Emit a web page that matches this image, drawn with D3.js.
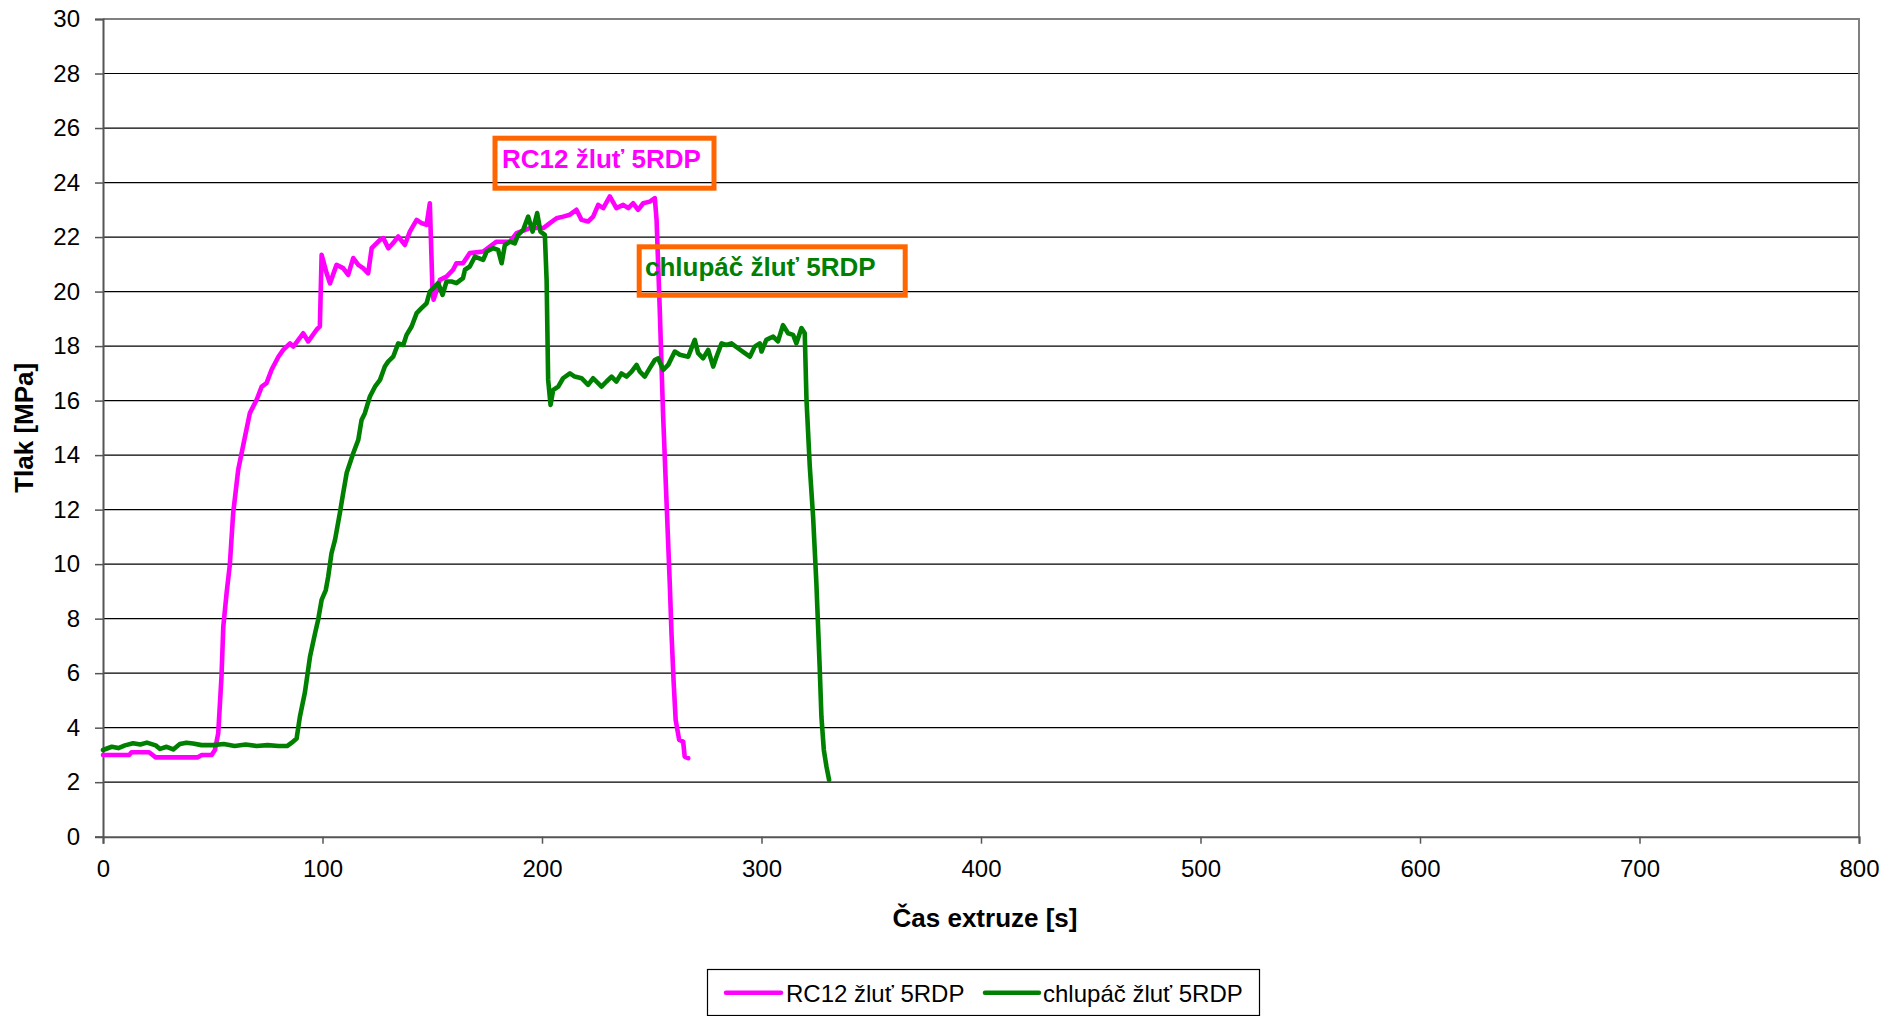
<!DOCTYPE html>
<html>
<head>
<meta charset="utf-8">
<script src="https://cdn.jsdelivr.net/npm/d3@7"></script>
<style>
  body { margin: 0; background: #fff; }
  svg { display: block; font-family: "Liberation Sans", Arial, sans-serif; }
</style>
</head>
<body>
<svg id="chart" width="1901" height="1016"></svg>
<script>
(function() {
'use strict';

// values: [time s, pressure MPa]
var rcSeries = [
    [0, 3.0], [5, 3.0], [12, 3.0], [13, 3.1], [21, 3.1], [24, 2.91], [43, 2.91], [45, 3.0],
    [49.5, 3.0], [51, 3.18], [52.5, 3.8], [54, 5.9], [54.8, 7.7], [56.3, 8.93], [57.8, 10.0],
    [59.3, 11.87], [61.6, 13.46], [64.7, 14.68], [66.9, 15.54], [70, 16.03], [72.3, 16.51],
    [74.5, 16.64], [76.8, 17.13], [79.9, 17.61], [82.1, 17.86], [85.2, 18.1], [86.7, 17.98],
    [91.2, 18.47], [93.5, 18.17], [97.3, 18.6], [98.8, 18.72], [99.6, 21.35], [101.9, 20.67],
    [103.4, 20.3], [106.4, 20.98], [109.4, 20.86], [111.7, 20.61], [114, 21.23], [116.3, 20.98],
    [118.5, 20.86], [120.8, 20.67], [122.4, 21.59], [126.2, 21.9], [127.7, 21.96], [130, 21.59],
    [132.2, 21.78], [134.5, 22.02], [137.5, 21.71], [139.8, 22.2], [142.9, 22.63], [145.1, 22.51],
    [147.4, 22.45], [148.9, 23.24], [150.1, 20.06], [150.6, 19.7], [153.5, 20.43], [156.5, 20.55],
    [159.5, 20.8], [161, 21.04], [164, 21.04], [167.1, 21.41], [173.2, 21.47], [179.3, 21.83],
    [185.4, 21.83], [188.4, 22.14], [194.5, 22.33], [200.6, 22.33], [203.6, 22.51], [206.6, 22.69],
    [209.6, 22.75], [212.7, 22.82], [215.7, 23.0], [218, 22.63], [221, 22.57], [223.3, 22.75],
    [225.6, 23.18], [227.9, 23.06], [230.9, 23.49], [233.9, 23.06], [237, 23.18], [239.3, 23.06],
    [241.5, 23.24], [243.8, 23.0], [246.1, 23.24], [249.1, 23.3], [251.4, 23.43], [252.2, 22.63],
    [252.9, 21.04], [253.7, 19.21], [254.4, 17.4], [255.2, 15.41], [256.7, 12.36], [258.2, 9.3],
    [259, 7.46], [260, 5.63], [260.9, 4.28], [262.5, 3.55], [264.3, 3.49], [265, 2.94], [266.6, 2.88]
];

var chSeries = [
    [0, 3.18], [4, 3.3], [7, 3.25], [10, 3.35], [13.7, 3.43], [17, 3.38], [20, 3.45], [24, 3.35],
    [26, 3.22], [29, 3.3], [32, 3.2], [35, 3.4], [38, 3.45], [41, 3.42], [44.9, 3.36], [50, 3.36],
    [55, 3.4], [60, 3.33], [65, 3.38], [70, 3.33], [75, 3.36], [80, 3.33], [84, 3.33], [86, 3.45],
    [88.2, 3.6], [89.7, 4.4], [92, 5.3], [94.3, 6.6], [96.6, 7.46], [98, 7.95], [99.6, 8.69],
    [101.5, 9.05], [102.6, 9.54], [104.1, 10.4], [105.7, 10.89], [107.9, 11.87], [109.4, 12.6],
    [111, 13.34], [114, 14.07], [116.3, 14.56], [117.8, 15.29], [119.3, 15.54], [121.6, 16.15],
    [123.9, 16.51], [126.2, 16.76], [128.4, 17.25], [129.9, 17.43], [132.2, 17.61], [134.5, 18.1],
    [136.8, 18.04], [138.3, 18.41], [140.6, 18.72], [142.9, 19.21], [145.1, 19.39], [147.4, 19.57],
    [148.9, 20.0], [151.2, 20.18], [152.7, 20.31], [154.7, 19.88], [156.5, 20.37], [158.8, 20.37],
    [161, 20.31], [164, 20.49], [164.9, 20.8], [167.1, 20.92], [169.4, 21.28], [173.2, 21.16],
    [174.8, 21.47], [177.8, 21.59], [180, 21.53], [181.6, 21.04], [183.1, 21.71], [185.4, 21.83],
    [187.6, 21.77], [189.1, 22.08], [191.4, 22.26], [193.7, 22.75], [195.7, 22.2], [197.8, 22.88],
    [199.3, 22.2], [201.3, 22.08], [202.1, 20.43], [202.8, 16.76], [203.9, 15.84], [205.1, 16.39],
    [207.4, 16.51], [209.6, 16.82], [212.7, 17.0], [214.9, 16.88], [218, 16.82], [221, 16.58],
    [223.3, 16.82], [227.1, 16.51], [229.4, 16.7], [231.7, 16.88], [233.9, 16.7], [236.2, 17.0],
    [238.5, 16.88], [240.8, 17.06], [243.1, 17.31], [244.6, 17.06], [246.8, 16.88], [249.1, 17.19],
    [251.4, 17.49], [252.9, 17.55], [255.2, 17.13], [257.5, 17.31], [260.5, 17.8], [262.8, 17.68],
    [266.6, 17.61], [269.6, 18.23], [271.1, 17.74], [273.4, 17.55], [275.7, 17.86], [278, 17.25],
    [279.5, 17.61], [281.8, 18.1], [284, 18.04], [286.3, 18.1], [289.3, 17.92], [292.4, 17.74],
    [294.7, 17.61], [296.9, 17.98], [299.2, 18.1], [300, 17.8], [302.2, 18.23], [305.3, 18.35],
    [307.5, 18.17], [309.8, 18.77], [312.1, 18.47], [314.4, 18.41], [315.9, 18.1], [318.2, 18.66],
    [319.7, 18.47], [320.5, 16.03], [322, 13.58], [323.5, 11.74], [325, 9.3], [326.5, 6.24],
    [327.3, 4.4], [328.4, 3.18], [329.6, 2.57], [330.8, 2.08]
];

var seriesNames = ['RC12 žluť 5RDP', 'chlupáč žluť 5RDP'];
var seriesColors = ['#ff00ff', '#008000'];
var xTicks = [0, 100, 200, 300, 400, 500, 600, 700, 800];
var yTicks = [0, 2, 4, 6, 8, 10, 12, 14, 16, 18, 20, 22, 24, 26, 28, 30];

var left = 103, right = 1859, top = 19, bottom = 836.7;

var svg = d3.select('#chart');

var x = d3.scaleLinear().domain([0, 800]).range([left, right]);
var y = d3.scaleLinear().domain([0, 30]).range([bottom, top]);

// grid
svg.append('g')
    .selectAll('line')
    .data(yTicks.filter(function(d) { return d > 0 && d < 30; }))
    .enter()
    .append('line')
    .attr('x1', left)
    .attr('x2', right)
    .attr('y1', function(d) { return y(d); })
    .attr('y2', function(d) { return y(d); })
    .attr('stroke', '#000')
    .attr('stroke-width', 1.2);

// plot frame top / right
svg.append('path')
    .attr('d', 'M' + left + ',' + y(30) + 'H' + right + 'V' + bottom)
    .attr('fill', 'none')
    .attr('stroke', '#808080')
    .attr('stroke-width', 2);

var yAxis = svg.append('g')
    .attr('transform', 'translate(' + left + ',0)')
    .call(d3.axisLeft(y).tickValues(yTicks).tickSize(8).tickPadding(15));

var xAxis = svg.append('g')
    .attr('transform', 'translate(0,' + bottom + ')')
    .call(d3.axisBottom(x).tickValues(xTicks).tickSize(7).tickPadding(16));

[yAxis, xAxis].forEach(function(ax) {
    ax.select('.domain').attr('stroke', '#555').attr('stroke-width', 2);
    ax.selectAll('.tick line').attr('stroke', '#555').attr('stroke-width', 1.5);
    ax.selectAll('.tick text')
        .attr('font-family', '"Liberation Sans", Arial, sans-serif')
        .attr('font-size', 24)
        .attr('fill', '#000');
});

// series
var line = d3.line()
    .x(function(d) { return x(d[0]); })
    .y(function(d) { return y(d[1]); });

[rcSeries, chSeries].forEach(function(s, i) {
    svg.append('path')
        .datum(s)
        .attr('d', line)
        .attr('fill', 'none')
        .attr('stroke', seriesColors[i])
        .attr('stroke-width', 4.6)
        .attr('stroke-linejoin', 'round')
        .attr('stroke-linecap', 'round');
});

// axis titles
svg.append('text')
    .attr('x', (left + right) / 2 + 4)
    .attr('y', 927)
    .attr('text-anchor', 'middle')
    .attr('font-size', 26)
    .attr('font-weight', 'bold')
    .text('Čas extruze [s]');

svg.append('text')
    .attr('transform', 'translate(33,' + ((top + bottom) / 2) + ') rotate(-90)')
    .attr('text-anchor', 'middle')
    .attr('font-size', 26)
    .attr('font-weight', 'bold')
    .text('Tlak [MPa]');

// annotation boxes
var notes = [
    { box: [495, 138.2, 219, 50], tx: 502, ty: 168 },
    { box: [639.2, 246.8, 266, 48.4], tx: 645, ty: 276 }
];
notes.forEach(function(n, i) {
    svg.append('rect')
        .attr('x', n.box[0]).attr('y', n.box[1])
        .attr('width', n.box[2]).attr('height', n.box[3])
        .attr('fill', 'none')
        .attr('stroke', '#ff6600')
        .attr('stroke-width', 5);
    svg.append('text')
        .attr('x', n.tx).attr('y', n.ty)
        .attr('font-size', 26)
        .attr('font-weight', 'bold')
        .attr('fill', seriesColors[i])
        .text(seriesNames[i]);
});

// legend
var lg = svg.append('g');
lg.append('rect')
    .attr('x', 707.5).attr('y', 969.5)
    .attr('width', 552).attr('height', 46)
    .attr('fill', '#fff')
    .attr('stroke', '#000')
    .attr('stroke-width', 1.2);

var legendItems = [
    { x1: 726, x2: 781, tx: 786 },
    { x1: 985, x2: 1039, tx: 1043 }
];
legendItems.forEach(function(it, i) {
    lg.append('line')
        .attr('x1', it.x1).attr('x2', it.x2)
        .attr('y1', 992.7).attr('y2', 992.7)
        .attr('stroke', seriesColors[i])
        .attr('stroke-width', 4.5)
        .attr('stroke-linecap', 'round');
    lg.append('text')
        .attr('x', it.tx).attr('y', 1001.5)
        .attr('font-size', 24)
        .attr('fill', '#000')
        .text(seriesNames[i]);
});

})();
</script>
</body>
</html>
